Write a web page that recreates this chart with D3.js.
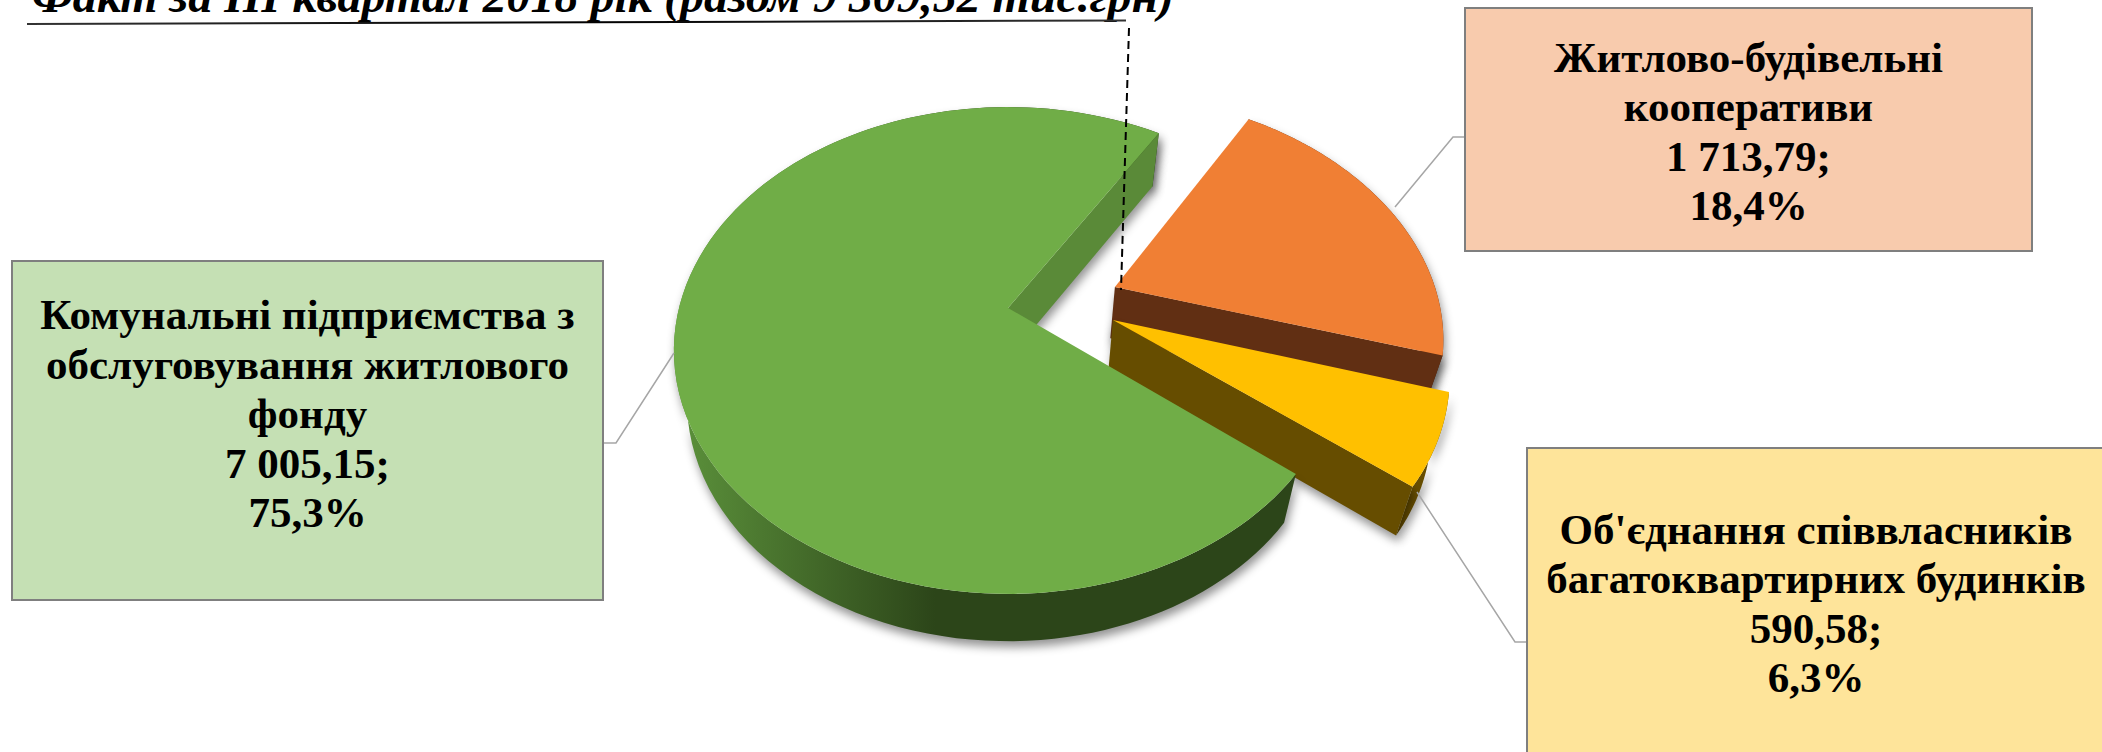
<!DOCTYPE html>
<html>
<head>
<meta charset="utf-8">
<script src="https://cdn.jsdelivr.net/npm/d3@7"></script>
<style>
  body { margin: 0; background: #fff; }
  svg { display: block; }
  text { font-family: "Liberation Serif", serif; font-weight: bold; fill: #000; }
</style>
</head>
<body>
<div id="chart"></div>
<script>
const categories = [
  ["Комунальні підприємства з", "обслуговування житлового", "фонду"],
  ["Житлово-будівельні", "кооперативи"],
  ["Об'єднання співвласників", "багатоквартирних будинків"]
]
const values = [7005.15, 1713.79, 590.58]
const percentLabels = ["75,3%", "18,4%", "6,3%"]
const titleStart = "Факт за ІІІ квартал 2018 рік (разом "
const titleEnd = " тис.грн)"

const topColors = ["#70ad47", "#f07f34", "#ffc000"]
const edgeColors = ["#5a8a38", "#612f13", "#664d00"]
const rimColors = ["url(#rimGreen)", "#612f13", "#664d00"]
const boxColors = ["#c5e0b4", "#f8cbad", "#fee49a"]

const w = 2102
const h = 752

const loc = d3.formatLocale({ decimal: ",", thousands: " ", grouping: [3], currency: ["", ""] })
const fmtValue = loc.format(",.2f")

const svg = d3.select("#chart").append("svg").attr("width", w).attr("height", h)
const defs = svg.append("defs")

const rimGrad = defs.append("linearGradient").attr("id", "rimGreen")
  .attr("gradientUnits", "userSpaceOnUse").attr("x1", 685).attr("x2", 935).attr("y1", 0).attr("y2", 0)
rimGrad.append("stop").attr("offset", 0).attr("stop-color", "#5a8f3a")
rimGrad.append("stop").attr("offset", 1).attr("stop-color", "#2c4519")

const lineGrad = defs.append("linearGradient").attr("id", "rule")
  .attr("gradientUnits", "userSpaceOnUse").attr("x1", 27).attr("x2", 1126).attr("y1", 0).attr("y2", 0)
lineGrad.append("stop").attr("offset", 0).attr("stop-color", "#333")
lineGrad.append("stop").attr("offset", 0.5).attr("stop-color", "#000")
lineGrad.append("stop").attr("offset", 1).attr("stop-color", "#333")

// perspective of the pie plane, fitted by eye to the picture
const cx = 1008, cy = 308, rx = 329, ry = 236, persp = 0.1746
const rad = Math.PI / 180
const startDeg = 124.79
const explode = [[0, 0], [0.33, -0.09], [0.316, 0.05]]
const sliceRadius = [1, 0.988, 0.988]

const project = (u, v, z) => {
  const k = 1 - persp * v
  const x = cx + rx * u / k
  const y = cy + ry * v / k
  if (!z) return [x, y]
  return [1000 + 0.96 * (x - 1000), y + 55 - 0.013 * y]
}

const pie = d3.pie().sort(null)
  .startAngle(startDeg * rad)
  .endAngle((startDeg + 360) * rad)
const arcs = pie(values)

// the 3D view bends the angles a little, clockwise from the top
const bend = t => t - 4.884 * rad * Math.sin(2 * (t + 27.66 * rad))

const rimPoint = (a, t, z) => {
  const e = bend(t)
  const off = explode[a.index]
  const r = sliceRadius[a.index]
  return project(off[0] + r * Math.sin(e), off[1] - r * Math.cos(e), z)
}
const apex = (a, z) => project(explode[a.index][0], explode[a.index][1], z)
const arcPoints = (a, z) => d3.range(0, 121).map(i => rimPoint(a, a.startAngle + (a.endAngle - a.startAngle) * i / 120, z))

const line = d3.line()
const closed = pts => line(pts) + "Z"

const pieG = svg.append("g")
const shadow = "drop-shadow(2px 6px 5px rgba(0,0,0,0.42))"

const drawEdge = a => {
  pieG.append("path")
    .attr("d", closed([apex(a, 0), rimPoint(a, a.endAngle, 0), rimPoint(a, a.endAngle, 1), apex(a, 1)]))
    .attr("fill", edgeColors[a.index])
    .style("filter", shadow)
}
const drawRim = a => {
  pieG.append("path")
    .attr("d", closed(arcPoints(a, 0).concat(arcPoints(a, 1).reverse())))
    .attr("fill", rimColors[a.index])
    .style("filter", shadow)
}
const drawTop = a => {
  pieG.append("path")
    .attr("d", closed([apex(a, 0)].concat(arcPoints(a, 0))))
    .attr("fill", topColors[a.index])
}

// back to front: orange, yellow, then the big green slice
;[arcs[1], arcs[2], arcs[0]].forEach(a => { drawRim(a); drawEdge(a); drawTop(a) })

// leader lines
const leaders = [
  [[603, 443], [616, 443], [674, 353]],
  [[1465, 137], [1453, 137], [1395, 207]],
  [[1527, 642], [1515, 642], [1417, 492]]
]
svg.selectAll(".leader").data(leaders).enter().append("path")
  .attr("class", "leader")
  .attr("d", line)
  .attr("fill", "none")
  .attr("stroke", "#a6a6a6")
  .attr("stroke-width", 1.5)

// label boxes
const boxes = [
  { x: 12, y: 261, w: 591, h: 339, first: 329, step: 49.5 },
  { x: 1465, y: 8, w: 567, h: 243, first: 72, step: 49.3 },
  { x: 1527, y: 448, w: 578, h: 320, first: 544, step: 49.3 }
]
const box = svg.selectAll(".box").data(boxes).enter().append("g").attr("class", "box")
box.append("rect")
  .attr("x", d => d.x).attr("y", d => d.y)
  .attr("width", d => d.w).attr("height", d => d.h)
  .attr("fill", (d, i) => boxColors[i])
  .attr("stroke", "#7f7f7f")
  .attr("stroke-width", 2)

box.each(function (d, i) {
  const lines = categories[i].concat([fmtValue(values[i]) + ";", percentLabels[i]])
  d3.select(this).selectAll("text").data(lines).enter().append("text")
    .attr("x", d.x + d.w / 2)
    .attr("y", (t, j) => d.first + j * d.step)
    .attr("text-anchor", "middle")
    .attr("font-size", 43)
    .text(t => t)
})

// title, cut by the top of the picture
svg.append("text")
  .attr("x", 32).attr("y", 11.5)
  .attr("font-size", 46)
  .attr("font-style", "italic")
  .attr("textLength", 1142)
  .attr("lengthAdjust", "spacingAndGlyphs")
  .text(titleStart + fmtValue(d3.sum(values)) + titleEnd)

svg.append("line")
  .attr("x1", 27).attr("y1", 24).attr("x2", 1126).attr("y2", 20.5)
  .attr("stroke", "url(#rule)")
  .attr("stroke-width", 2)

// dashed pointer
svg.append("line")
  .attr("x1", 1129).attr("y1", 28).attr("x2", 1121).attr("y2", 290)
  .attr("stroke", "#000")
  .attr("stroke-width", 2)
  .attr("stroke-dasharray", "8 5")
</script>
</body>
</html>
